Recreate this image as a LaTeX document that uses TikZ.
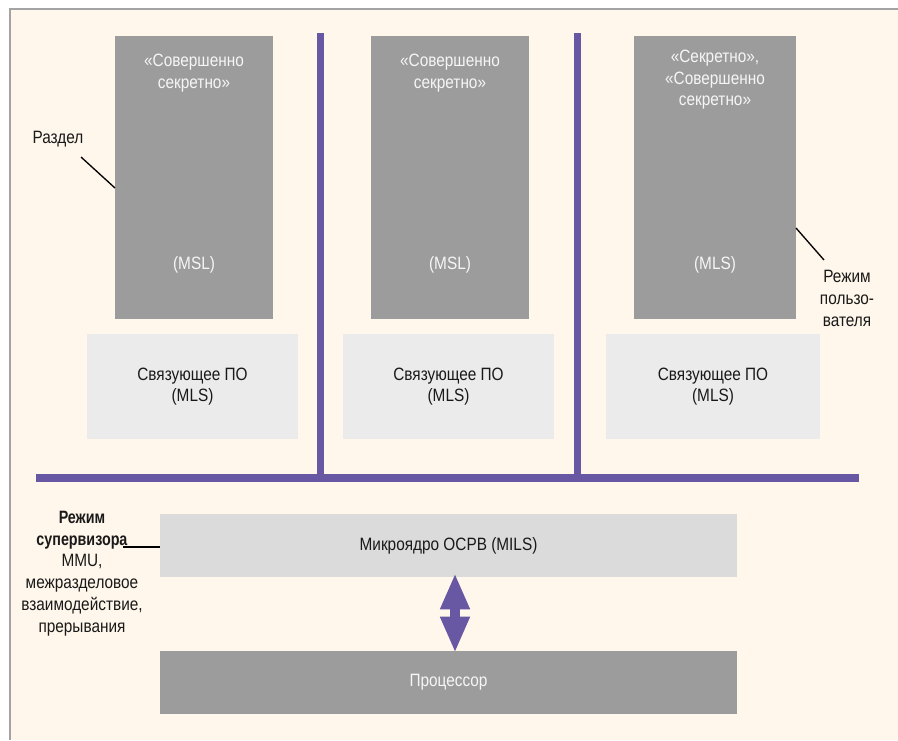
\documentclass[tikz,border=0pt]{standalone}
\usepackage{fontspec}
\setmainfont{Liberation Sans}[FakeStretch=0.86, BoldFeatures={FakeStretch=0.8}]
\usetikzlibrary{arrows.meta}
\definecolor{bgcream}{HTML}{FFF7EB}
\definecolor{frameg}{HTML}{A3A3A3}
\definecolor{darkg}{HTML}{9C9C9C}
\definecolor{lightg}{HTML}{EBEBEB}
\definecolor{kerng}{HTML}{DADBDA}
\definecolor{violet}{HTML}{6857A2}
\definecolor{whitetxt}{HTML}{F6F6F6}
\tikzset{
  darkbox/.style={fill=darkg, draw=none, inner sep=0pt},
  lightbox/.style={fill=lightg, draw=none, inner sep=0pt, align=center, text=black!90},
  kernbox/.style={fill=kerng, draw=none, inner sep=0pt, align=center, text=black!90},
  proctext/.style={text=whitetxt},
  wtext/.style={text=whitetxt, align=center, inner sep=0pt},
  btext/.style={text=black!90, align=center, inner sep=0pt},
  bus/.style={draw=violet, line width=5.6pt},
  leader/.style={draw=black, line width=1pt},
}
\begin{document}
\begin{tikzpicture}[x=0.75pt, y=-0.75pt, font=\fontsize{13.4pt}{16.2pt}\selectfont]
\useasboundingbox (0,0) rectangle (898,740);
\fill[white] (0,0) rectangle (898,740);
\fill[bgcream] (9,8) rectangle (898,740);
\draw[frameg, line width=1.5pt] (9.5,740) -- (9.5,8.5) -- (898,8.5);

% partitions (user mode)
\node[darkbox, minimum width={158*0.75pt}, minimum height={283*0.75pt}] (p1) at (194,177.5) {};
\node[darkbox, minimum width={158*0.75pt}, minimum height={283*0.75pt}] (p2) at (450,177.5) {};
\node[darkbox, minimum width={162*0.75pt}, minimum height={283*0.75pt}] (p3) at (715,177.5) {};

\node[wtext] (t1) at (194,73) {«Совершенно\\секретно»};
\node[wtext] (m1) at (194,265) {(MSL)};
\node[wtext] (t2) at (450,73) {«Совершенно\\секретно»};
\node[wtext] (m2) at (450,265) {(MSL)};
\node[wtext] (t3) at (715,80) {«Секретно»,\\«Совершенно\\секретно»};
\node[wtext] (m3) at (715,265) {(MLS)};

% middleware
\node[lightbox, minimum width={211*0.75pt}, minimum height={105*0.75pt}] (l1) at (192.5,386.5) {Связующее ПО\\(MLS)};
\node[lightbox, minimum width={211*0.75pt}, minimum height={105*0.75pt}] (l2) at (448.5,386.5) {Связующее ПО\\(MLS)};
\node[lightbox, minimum width={214*0.75pt}, minimum height={105*0.75pt}] (l3) at (713,386.5) {Связующее ПО\\(MLS)};

% separators and bus
\coordinate (busL) at (36,478);
\coordinate (busR) at (859,478);
\coordinate (v1top) at (320.5,33);
\coordinate (v2top) at (577.5,33);
\draw[bus] (v1top) -- (v1top |- busL);
\draw[bus] (v2top) -- (v2top |- busL);
\draw[bus] (busL) -- (busR);

% kernel and processor
\node[kernbox, minimum width={577*0.75pt}, minimum height={63*0.75pt}] (mk) at (448.5,545.5) {Микроядро ОСРВ (MILS)};
\node[darkbox, proctext, minimum width={577*0.75pt}, minimum height={63*0.75pt}] (proc) at (448.5,682.5) {Процессор};
\draw[violet, line width=7.5pt, {Triangle[length=27pt, width=20.5pt]}-{Triangle[length=27pt, width=20.5pt]}]
  ([shift={(6.5,-4)}]mk.south) -- ([shift={(6.5,2)}]proc.north);

% labels
\node[btext] (razdel) at (58,139) {Раздел};
\coordinate (rz1) at (81,157);
\coordinate (rz2) at (115,188);
\draw[leader] (rz1) -- (rz2);

\node[btext] (umode) at (847,298.5) {Режим\\пользо-\\вателя};
\coordinate (um1) at (796,228);
\coordinate (um2) at (824,260);
\draw[leader] (um1) -- (um2);

\node[btext, font=\fontsize{13.4pt}{16.35pt}\selectfont] (smode) at (82,573.5) {\textbf{Режим}\\\textbf{супервизора}\\MMU,\\межразделовое\\взаимодействие,\\прерывания};
\coordinate (sv1) at (123,547);
\draw[leader] (sv1) -- (sv1 -| mk.west);
\end{tikzpicture}
\end{document}
